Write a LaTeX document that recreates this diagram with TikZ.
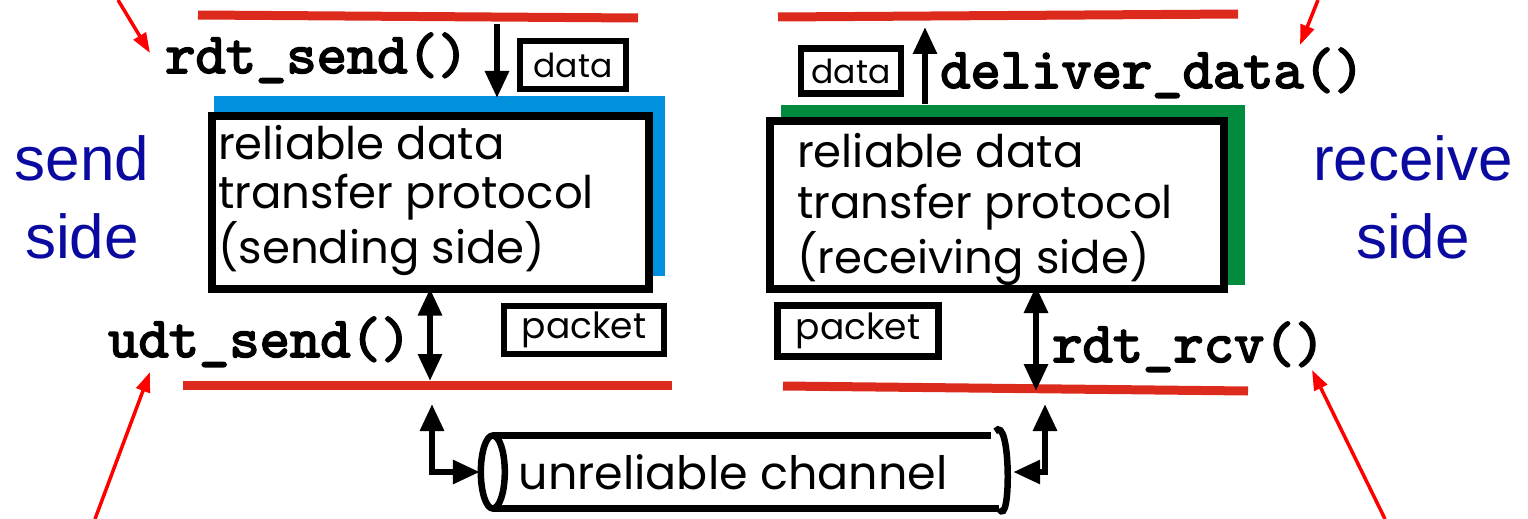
\documentclass[tikz,border=0pt]{standalone}
\usepackage{fontspec}
\setmainfont{Poppins}
\setsansfont{Liberation Sans}
\newfontfamily\fnfont{lmmono10-regular.otf}[FakeBold=3]
\usetikzlibrary{arrows.meta}
\definecolor{sideblue}{RGB}{10,10,160}
\definecolor{shadowblue}{RGB}{0,144,222}
\definecolor{shadowgreen}{RGB}{0,140,60}
\definecolor{layerred}{RGB}{220,43,28}
\tikzset{
  bigtip/.tip={Triangle[length=27pt,width=23pt]},
  layer/.style={draw=layerred, line width=9pt},
  pointer/.style={draw=red, line width=3.5pt, -{Triangle[length=20pt,width=14pt]}},
  flow/.style={draw=black, line width=6pt},
  protobox/.style={draw=black, line width=8pt, fill=white},
  prototext/.style={inner sep=0pt, align=left, anchor=base west, font=\fontsize{45}{49}\selectfont},
  pktbox/.style={draw=black, line width=6.5pt, inner sep=0pt},
  fn/.style={font=\fontsize{57.7}{60}\fnfont, inner sep=0pt, anchor=base west},
  sidelabel/.style={text=sideblue, font=\fontsize{62}{78}\sffamily, align=center, inner sep=0pt},
  chan/.style={line width=6.5pt},
}
\begin{document}
\begin{tikzpicture}[x=1pt,y=-1pt]
\useasboundingbox (0,0) rectangle (1528,519);
% layer lines
\draw[layer] (198,15) -- (638,18);
\draw[layer] (778,17) -- (1238,14);
\draw[layer] (183,385) -- (672,385);
\draw[layer] (783,386) -- (1248,391);
% side labels
\node[sidelabel] (sendside) at (82,197) {send\\side};
\node[sidelabel] (recvside) at (1413,197) {receive\\side};
% sender box
\fill[shadowblue] (214,96) rectangle (665,276);
\node[protobox, minimum width=437pt, minimum height=173pt] (sbox) at (430,202) {};
\node[prototext] (stext) at (218,263) {reliable data\\transfer protocol\\(sending side)};
% receiver box
\fill[shadowgreen] (781,105) rectangle (1245,285);
\node[protobox, minimum width=454pt, minimum height=168pt] (rbox) at (997,205) {};
\node[prototext, font=\fontsize{45}{51}\selectfont] (rtext) at (797,273) {reliable data\\transfer protocol\\(receiving side)};
% function names
\node[fn] (rdtsend) at (165,73) {rdt\_send()};
\node[fn] (deliver) at (940,88) {deliver\_data()};
\node[fn] (udtsend) at (108,357) {udt\_send()};
\node[fn] (rdtrcv) at (1052,362) {rdt\_rcv()};
% data / packet boxes
\node[pktbox, minimum width=106pt, minimum height=48pt, font=\fontsize{33}{36}\selectfont] (sdata) at (573,65) {data};
\node[pktbox, minimum width=100pt, minimum height=45pt, font=\fontsize{33}{36}\selectfont] (rdata) at (851,71) {data};
\node[pktbox, minimum width=160pt, minimum height=48pt, font=\fontsize{36}{40}\selectfont] (spkt) at (584,330) {packet};
\node[pktbox, minimum width=161pt, minimum height=51pt, font=\fontsize{36}{40}\selectfont] (rpkt) at (858,331) {packet};
% arrows between layers
\coordinate (stop) at (497,24);
\coordinate (sshadow) at (497,98);
\coordinate (rtop) at (925,27);
\coordinate (rshadow) at (925,104);
\coordinate (sbot) at (430,381);
\coordinate (rbot) at (1036,391);
\draw[flow, -{bigtip}] (stop) -- (sshadow);
\draw[flow, -{bigtip}] (rshadow) -- (rtop);
\draw[flow, {bigtip}-{bigtip}] ([yshift=4pt]sbox.south -| sbot) -- (sbot);
\draw[flow, {bigtip}-{bigtip}] ([yshift=7pt]rbox.south -| rbot) -- (rbot);
% channel
\node[font=\fontsize{46}{52}\selectfont, minimum width=510pt, minimum height=73pt, inner sep=0pt] (ch) at (748,472) {\hspace{-30pt}unreliable channel};
\draw[chan] (ch.west) ellipse [x radius=12pt, y radius=36.5pt];
\draw[chan] (ch.north west) -- ([xshift=-12pt]ch.north east);
\draw[chan] (ch.south west) -- ([xshift=-4pt]ch.south east);
\draw[chan] ([xshift=-8pt,yshift=4pt]ch.north east) .. controls ([xshift=8pt,yshift=22pt]ch.north east) and ([xshift=8pt,yshift=-22pt]ch.south east) .. ([xshift=-4pt]ch.south east);
\coordinate (sup) at (432,404);
\coordinate (rup) at (1045,404);
\draw[flow, {bigtip}-{bigtip}] (sup) -- (sup |- ch.west) -- ([xshift=-13pt]ch.west);
\draw[flow, {bigtip}-{bigtip}] ([xshift=10pt]ch.east) -- (rup |- ch.east) -- (rup);
% red pointers
\coordinate (p1) at (118,0);
\coordinate (p2) at (1318,0);
\coordinate (p3) at (95,519);
\coordinate (p4) at (1385,519);
\draw[pointer] (p1) -- (150,53);
\draw[pointer] (p2) -- (1300,45);
\draw[pointer] (p3) -- (150,372);
\draw[pointer] (p4) -- (1312,370);
\end{tikzpicture}
\end{document}
